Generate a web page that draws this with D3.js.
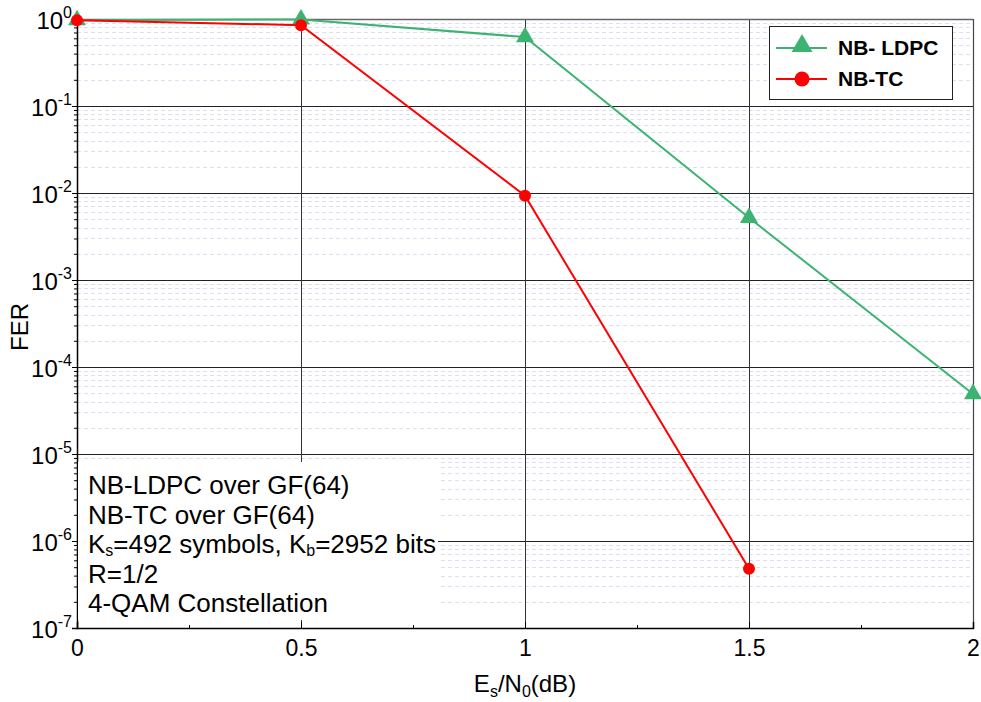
<!DOCTYPE html>
<html><head><meta charset="utf-8">
<script src="https://cdn.jsdelivr.net/npm/d3@7/dist/d3.min.js"></script>
<style>body{margin:0;background:#fff;} svg{display:block;font-family:"Liberation Sans",Arial,sans-serif;}</style>
</head><body>
<script>
const ldpcX = [0, 0.5, 1, 1.5, 2];
const ldpcFER = [0.97, 0.99, 0.62, 5.2e-3, 4.9e-5];
const tcX = [0, 0.5, 1, 1.5];
const tcFER = [0.97, 0.85, 9.3e-3, 4.8e-7];
const xTicks = [0, 0.5, 1, 1.5, 2];
const xTickLabels = ["0", "0.5", "1", "1.5", "2"];
const yExponents = [0, -1, -2, -3, -4, -5, -6, -7];
const seriesNames = ["NB- LDPC", "NB-TC"];
const infoLines = ["NB-LDPC over GF(64)", "NB-TC over GF(64)", "K|s|=492 symbols, K|b|=2952 bits", "R=1/2", "4-QAM Constellation"];

const W = 981, H = 702;
const L = 77, R = 973, T = 19, B = 628;
const svg = d3.select("body").append("svg").attr("width", W).attr("height", H);
const x = d3.scaleLinear().domain([0, 2]).range([L, R]);
const y = d3.scaleLog().domain([1e-7, 1]).range([B, T]);

// minor horizontal grid
const minor = [];
for (let e = -7; e < 0; e++) for (let m = 2; m <= 9; m++) minor.push(m * Math.pow(10, e));
svg.append("g").selectAll("line").data(minor).join("line")
  .attr("x1", L).attr("x2", R).attr("y1", d => Math.round(y(d)) + 0.5).attr("y2", d => Math.round(y(d)) + 0.5)
  .attr("stroke", "#dedef2").attr("stroke-width", 1).attr("stroke-dasharray", "4,3");

// major grid
svg.append("g").selectAll("line").data(yExponents.slice(1, -1)).join("line")
  .attr("x1", L).attr("x2", R).attr("y1", d => Math.round(y(Math.pow(10, d))) + 0.5).attr("y2", d => Math.round(y(Math.pow(10, d))) + 0.5)
  .attr("stroke", "#222").attr("stroke-width", 1);
svg.append("g").selectAll("line").data(xTicks.slice(1, -1)).join("line")
  .attr("x1", d => Math.round(x(d)) + 0.5).attr("x2", d => Math.round(x(d)) + 0.5).attr("y1", T).attr("y2", B)
  .attr("stroke", "#333").attr("stroke-width", 1);

// top/right border
svg.append("line").attr("x1", L).attr("x2", R).attr("y1", T + 0.5).attr("y2", T + 0.5).attr("stroke", "#666").attr("stroke-width", 1.5);
svg.append("line").attr("x1", R + 0.5).attr("x2", R + 0.5).attr("y1", T).attr("y2", B).attr("stroke", "#444").attr("stroke-width", 1.2);

// axes
const xAxis = d3.axisBottom(x).tickValues(xTicks).tickFormat((d, i) => xTickLabels[i]).tickSize(-6).tickPadding(14);
const gx = svg.append("g").attr("transform", `translate(0,${B})`).call(xAxis);
gx.select(".domain").attr("stroke", "#000").attr("stroke-width", 1.5);
gx.selectAll(".tick line").attr("stroke", "#000");
gx.selectAll(".tick text").attr("font-size", 23).attr("fill", "#000").attr("font-family", "Liberation Sans, Arial, sans-serif").attr("dy", "0.6em");
const gxm = svg.append("g").attr("transform", `translate(0,${B})`).call(d3.axisBottom(x).tickValues([0.25, 0.75, 1.25, 1.75]).tickFormat("").tickSize(-3));
gxm.select(".domain").remove();
gxm.selectAll(".tick line").attr("stroke", "#000");

const gy = svg.append("g").attr("transform", `translate(${L},0)`)
  .call(d3.axisLeft(y).tickValues(yExponents.map(e => Math.pow(10, e))).tickFormat("").tickSize(5));
gy.select(".domain").attr("stroke", "#000").attr("stroke-width", 1.5);
gy.selectAll(".tick line").attr("stroke", "#000");
const gym = svg.append("g").attr("transform", `translate(${L},0)`)
  .call(d3.axisLeft(y).tickValues(minor).tickFormat("").tickSize(3));
gym.select(".domain").remove();
gym.selectAll(".tick line").attr("stroke", "#000");

// y tick labels with superscript
const yl = svg.append("g").selectAll("text").data(yExponents).join("text")
  .attr("x", 72).attr("y", d => y(Math.pow(10, d)) + 10).attr("text-anchor", "end")
  .attr("font-size", 24).attr("fill", "#000");
yl.append("tspan").text("10");
yl.append("tspan").attr("dy", -11).attr("font-size", 16).text(d => String(d));

// axis titles
svg.append("text").attr("transform", `translate(28,327) rotate(-90)`).attr("text-anchor", "middle")
  .attr("font-size", 24).attr("fill", "#000").text("FER");
const xt = svg.append("text").attr("x", 525).attr("y", 692).attr("text-anchor", "middle").attr("font-size", 24).attr("fill", "#000");
xt.append("tspan").text("E");
xt.append("tspan").attr("font-size", 16).attr("dy", 5).text("s");
xt.append("tspan").attr("dy", -5).text("/N");
xt.append("tspan").attr("font-size", 16).attr("dy", 5).text("0");
xt.append("tspan").attr("dy", -5).text("(dB)");

// info box
svg.append("rect").attr("x", L + 1).attr("y", 462).attr("width", 360).attr("height", 158).attr("fill", "#fff");
infoLines.forEach((s, i) => {
  const t = svg.append("text").attr("x", 88).attr("y", 494 + i * 29.5).attr("font-size", 26).attr("fill", "#000");
  const parts = s.split("|");
  parts.forEach((p, j) => {
    if (j % 2 === 1) t.append("tspan").attr("font-size", 16).attr("dy", 3).text(p);
    else t.append("tspan").attr("dy", j > 0 ? -3 : 0).text(p);
  });
});

// series
const green = "#3cb371", red = "#ff0000";
const line = d3.line().x(d => x(d[0])).y(d => y(d[1]));
const ldpc = ldpcX.map((v, i) => [v, ldpcFER[i]]);
const tc = tcX.map((v, i) => [v, tcFER[i]]);
const tri = d3.symbol().type(d3.symbolTriangle).size(140);
const triL = d3.symbol().type(d3.symbolTriangle).size(190);
svg.append("path").datum(ldpc).attr("d", line).attr("fill", "none").attr("stroke", green).attr("stroke-width", 2);
svg.append("g").selectAll("path").data(ldpc).join("path").attr("d", tri)
  .attr("transform", d => `translate(${x(d[0])},${y(d[1])})`).attr("fill", green);
svg.append("path").datum(tc).attr("d", line).attr("fill", "none").attr("stroke", red).attr("stroke-width", 2);
svg.append("g").selectAll("circle").data(tc).join("circle")
  .attr("cx", d => x(d[0])).attr("cy", d => y(d[1])).attr("r", 6).attr("fill", red);

// legend
svg.append("rect").attr("x", 769.5).attr("y", 26.5).attr("width", 183).attr("height", 73).attr("fill", "#fff").attr("stroke", "#222").attr("stroke-width", 1);
const lg = [{c: green, s: "tri"}, {c: red, s: "circ"}];
lg.forEach((d, i) => {
  const yy = 48 + i * 31;
  svg.append("line").attr("x1", 776).attr("x2", 827).attr("y1", yy).attr("y2", yy).attr("stroke", d.c).attr("stroke-width", 2);
  if (d.s === "tri") svg.append("path").attr("d", triL).attr("transform", `translate(802,${yy - 2})`).attr("fill", d.c);
  else svg.append("circle").attr("cx", 802).attr("cy", yy).attr("r", 7.5).attr("fill", d.c);
  svg.append("text").attr("x", 838).attr("y", yy + 7).attr("font-size", 21).attr("font-weight", "bold").attr("fill", "#000").text(seriesNames[i]);
});
</script>
</body></html>
